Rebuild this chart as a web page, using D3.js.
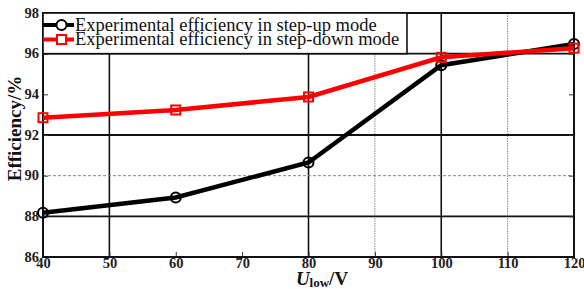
<!DOCTYPE html>
<html><head><meta charset="utf-8">
<script src="https://cdn.jsdelivr.net/npm/d3@7"></script>
<style>body{margin:0;background:#fff}svg{display:block}</style>
</head><body>
<svg id="c" width="584" height="289"></svg>
<script>
const voltages = [40, 60, 80, 100, 120];
const stepUp = [88.18, 88.93, 90.65, 95.43, 96.48];
const stepDown = [92.85, 93.23, 93.87, 95.82, 96.27];
const xTicks = [40, 50, 60, 70, 80, 90, 100, 110, 120];
const yTicks = [86, 88, 90, 92, 94, 96, 98];
const seriesNames = ["Experimental efficiency in step-up mode", "Experimental efficiency in step-down mode"];
const solidX = [50, 80, 100];
const dottedX = [90, 110];
const solidY = [88, 92, 96];
const dashedY = [90];

const svg = d3.select("#c");
const L = 43, R = 574, T = 13, B = 257;
const x = d3.scaleLinear().domain([40, 120]).range([L, R]);
const y = d3.scaleLinear().domain([86, 98]).range([B, T]);
const font = "'Liberation Serif','Times New Roman',serif";

// grid
svg.append("g").selectAll("line").data(solidX).join("line")
  .attr("x1", d => x(d)).attr("x2", d => x(d)).attr("y1", T).attr("y2", B)
  .attr("stroke", "#111").attr("stroke-width", 1.6);
svg.append("g").selectAll("line").data(dottedX).join("line")
  .attr("x1", d => x(d)).attr("x2", d => x(d)).attr("y1", T).attr("y2", B)
  .attr("stroke", "#888").attr("stroke-width", 1).attr("stroke-dasharray", "1.5,1");
svg.append("g").selectAll("line").data(solidY).join("line")
  .attr("x1", L).attr("x2", R).attr("y1", d => y(d)).attr("y2", d => y(d))
  .attr("stroke", "#111").attr("stroke-width", 1.8);
svg.append("g").selectAll("line").data(dashedY).join("line")
  .attr("x1", L).attr("x2", R).attr("y1", d => y(d)).attr("y2", d => y(d))
  .attr("stroke", "#888").attr("stroke-width", 1).attr("stroke-dasharray", "3,2");

// axes with inward ticks
const xAxis = d3.axisBottom(x).tickValues(xTicks).tickSizeInner(-5).tickSizeOuter(0).tickPadding(5);
const yAxis = d3.axisLeft(y).tickValues(yTicks).tickSizeInner(-5).tickSizeOuter(0).tickPadding(9);
const gx = svg.append("g").attr("transform", `translate(0,${B})`).call(xAxis);
const gy = svg.append("g").attr("transform", `translate(${L},0)`).call(yAxis);
const gr = svg.append("g").attr("transform", `translate(${R},0)`).call(d3.axisRight(y).tickValues(yTicks).tickSizeInner(-5).tickSizeOuter(0).tickFormat(""));
[gx, gy, gr].forEach(g => {
  g.select(".domain").remove();
  g.selectAll(".tick line").attr("stroke", "#333").attr("stroke-width", 1);
  g.selectAll("text").attr("font-family", font).attr("font-weight", "bold").attr("font-size", 14.5).attr("fill", "#222");
});
gx.selectAll("text").attr("dy", "0.4em");
gy.selectAll("text").attr("dx", "5").attr("dy", "0.28em");

// frame
svg.append("rect").attr("x", L).attr("y", T).attr("width", R - L).attr("height", B - T)
  .attr("fill", "none").attr("stroke", "#111").attr("stroke-width", 2);

// series
const line = d3.line().x(d => x(d[0])).y(d => y(d[1]));
const upData = voltages.map((v, i) => [v, stepUp[i]]);
const downData = voltages.map((v, i) => [v, stepDown[i]]);
svg.append("path").datum(upData).attr("d", line).attr("fill", "none").attr("stroke", "#000").attr("stroke-width", 4.5);
svg.append("g").selectAll("circle").data(upData).join("circle")
  .attr("cx", d => x(d[0])).attr("cy", d => y(d[1])).attr("r", 5)
  .attr("fill", "none").attr("stroke", "#000").attr("stroke-width", 2);
svg.append("path").datum(downData).attr("d", line).attr("fill", "none").attr("stroke", "#ff0000").attr("stroke-width", 4.5);
svg.append("g").selectAll("rect").data(downData).join("rect")
  .attr("x", d => x(d[0]) - 4.5).attr("y", d => y(d[1]) - 4.5).attr("width", 9).attr("height", 9)
  .attr("fill", "none").attr("stroke", "#ff0000").attr("stroke-width", 2);

// legend
const lg = svg.append("g");
lg.append("rect").attr("x", L).attr("y", T).attr("width", 407 - L).attr("height", y(96) - T)
  .attr("fill", "#fff").attr("stroke", "#111").attr("stroke-width", 1.6);
const lys = [25, 39.5];
const colors = ["#000", "#ff0000"];
seriesNames.forEach((name, i) => {
  lg.append("line").attr("x1", 43).attr("x2", 74).attr("y1", lys[i]).attr("y2", lys[i])
    .attr("stroke", colors[i]).attr("stroke-width", 4);
  if (i === 0) lg.append("circle").attr("cx", 61.5).attr("cy", lys[i]).attr("r", 5).attr("fill", "#fff").attr("stroke", "#000").attr("stroke-width", 2);
  else lg.append("rect").attr("x", 57).attr("y", lys[i] - 4.5).attr("width", 9).attr("height", 9).attr("fill", "#fff").attr("stroke", "#ff0000").attr("stroke-width", 2);
  lg.append("text").attr("x", 75).attr("y", lys[i] + 5.5).text(name)
    .attr("font-family", font).attr("font-size", 18.5).attr("fill", "#111");
});

// axis titles
const xt = svg.append("text").attr("x", 322).attr("y", 285).attr("text-anchor", "middle")
  .attr("font-family", font).attr("font-weight", "bold").attr("font-size", 19).attr("fill", "#111");
xt.append("tspan").attr("font-style", "italic").text("U");
xt.append("tspan").attr("font-size", 13).attr("dy", 2).text("low");
xt.append("tspan").attr("dy", -2).text("/V");
svg.append("text").attr("transform", "translate(21,128.5) rotate(-90)").attr("text-anchor", "middle")
  .attr("font-family", font).attr("font-weight", "bold").attr("font-size", 19).attr("fill", "#111")
  .text("Efficiency/%");
</script>
</body></html>
